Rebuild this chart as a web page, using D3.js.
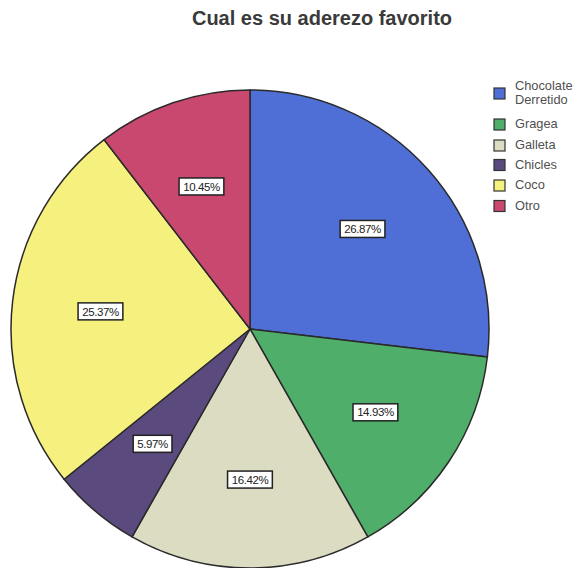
<!DOCTYPE html>
<html><head><meta charset="utf-8">
<script src="https://cdn.jsdelivr.net/npm/d3@7"></script>
<style>body{margin:0;background:#fff}svg{display:block}</style>
</head><body>
<svg id="c" width="580" height="568"></svg>
<script>
const title = "Cual es su aderezo favorito";
const categories = ["Chocolate Derretido","Gragea","Galleta","Chicles","Coco","Otro"];
const legendLines = [["Chocolate","Derretido"],["Gragea"],["Galleta"],["Chicles"],["Coco"],["Otro"]];
const values = [26.87, 14.93, 16.42, 5.97, 25.37, 10.45];
const labels = ["26.87%","14.93%","16.42%","5.97%","25.37%","10.45%"];
const colors = ["#4f6fd6","#4fae6a","#dcdcc2","#5a4a7e","#f6f07e","#c9486f"];

const svg = d3.select("#c");
const cx = 250, cy = 329, r = 239;
const font = "Liberation Sans, Arial, sans-serif";

svg.append("text").attr("x", 322).attr("y", 25).attr("text-anchor","middle")
  .attr("font-family",font).attr("font-weight","bold")
  .attr("font-size", 20).attr("fill","#3a3a3a").text(title);

const pie = d3.pie().sort(null).value(d => d)(values);
const arc = d3.arc().innerRadius(0).outerRadius(r);
const labelArc = d3.arc().innerRadius(r*0.63).outerRadius(r*0.63);

const g = svg.append("g").attr("transform", `translate(${cx},${cy})`);
g.selectAll("path").data(pie).join("path")
  .attr("d", arc).attr("fill", (d,i) => colors[i])
  .attr("stroke","#2a2a2a").attr("stroke-width",1.5);

const lg = g.selectAll("g.lab").data(pie).join("g").attr("class","lab")
  .attr("transform", d => `translate(${labelArc.centroid(d)})`);
const rects = lg.append("rect").attr("fill","#fff").attr("stroke","#222").attr("stroke-width",1.5);
const texts = lg.append("text").attr("text-anchor","middle").attr("dy","0.36em")
  .attr("font-family",font).attr("font-size",11.5)
  .attr("fill","#222").attr("letter-spacing","-0.4").text((d,i) => labels[i]);
texts.each(function(d,i){
  const bb = this.getBBox();
  const w = bb.width + 8, h = 17;
  d3.select(rects.nodes()[i]).attr("x",-w/2).attr("y",-h/2).attr("width",w).attr("height",h);
});

// legend
const legY = [93.5, 124.5, 145.5, 165, 185.5, 206];
const leg = svg.append("g");
categories.forEach((c,i) => {
  const y = legY[i];
  leg.append("rect").attr("x",494).attr("y",y-5.5).attr("width",11).attr("height",11)
    .attr("fill",colors[i]).attr("stroke","#333").attr("stroke-width",1.2);
  const lines = legendLines[i];
  const t = leg.append("text").attr("font-family",font)
    .attr("font-size",12.8).attr("fill","#505050");
  lines.forEach((ln,j) => {
    t.append("tspan").attr("x",515).attr("y", y + 3.5 + (j - (lines.length-1)/2)*14).text(ln);
  });
});
</script>
</body></html>
